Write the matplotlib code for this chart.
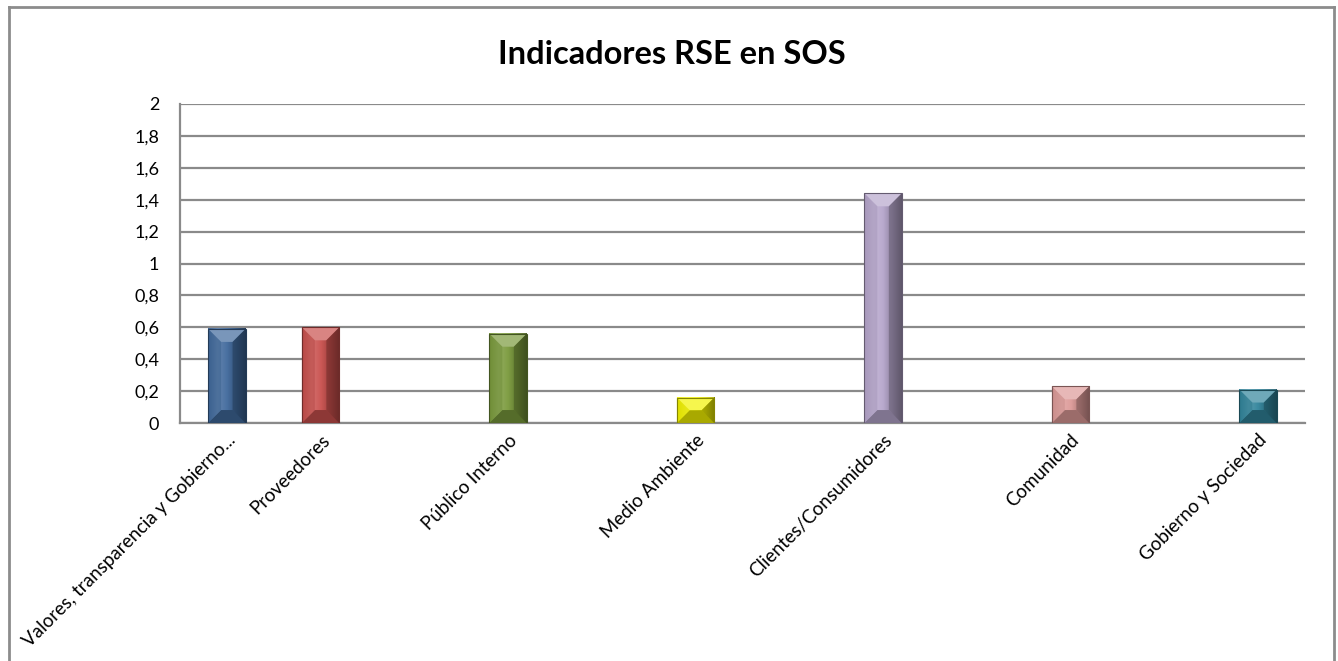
import numpy as np
import matplotlib.pyplot as plt
import matplotlib.colors as mcolors
from matplotlib.patches import Polygon, Rectangle
from matplotlib.lines import Line2D

categories = ['Valores, transparencia y Gobierno...', 'Proveedores', '', 'Público Interno', '',
              'Medio Ambiente', '', 'Clientes/Consumidores', '', 'Comunidad', '', 'Gobierno y Sociedad']
values = [0.59, 0.60, 0, 0.56, 0, 0.16, 0, 1.44, 0, 0.23, 0, 0.21]
bar_colors = ['#40699c', '#c9504d', '#fff', '#7a9a3c', '#fff', '#f2f200', '#fff',
              '#b6a6cc', '#fff', '#dd9a98', '#fff', '#31849b']
yticks = [0, 0.2, 0.4, 0.6, 0.8, 1, 1.2, 1.4, 1.6, 1.8, 2]
ytick_labels = ['0', '0,2', '0,4', '0,6', '0,8', '1', '1,2', '1,4', '1,6', '1,8', '2']
title = 'Indicadores RSE en SOS'

plt.rcParams['font.family'] = ['Lato', 'DejaVu Sans']


def shade(c, f):
    rgb = np.array(mcolors.to_rgb(c))
    if f > 0:
        return tuple(rgb + (1 - rgb) * f)
    return tuple(rgb * (1 + f))


fig = plt.figure(figsize=(13.38, 6.61), dpi=100)
ax = fig.add_axes([0.1345, 0.360, 0.8408, 0.4827])

x = np.arange(len(categories))
width = 0.4
ax.set_xlim(-0.5, len(categories) - 0.5)
ax.set_ylim(0, 2)

# pixels per data unit, to keep bevels square
pos = ax.get_position()
sx = pos.width * fig.get_figwidth() * fig.dpi / (len(categories))
sy = pos.height * fig.get_figheight() * fig.dpi / 2.0

for xi, v, c, lab in zip(x, values, bar_colors, categories):
    if not lab:
        continue
    x0, x1 = xi - width / 2, xi + width / 2
    # face with horizontal gradient
    stops = [shade(c, -0.05), shade(c, 0.18), shade(c, 0.05), shade(c, -0.2), shade(c, -0.5)]
    grad = np.array([stops[int(i)] if i == int(i) else
                     tuple(np.array(stops[int(i)]) * (1 - (i - int(i))) + np.array(stops[int(i) + 1]) * (i - int(i)))
                     for i in np.linspace(0, len(stops) - 1, 60)])
    ax.imshow(grad[np.newaxis, :, :], extent=(x0, x1, 0, v), aspect='auto',
              interpolation='bilinear', zorder=3)
    b = min(13, width * sx / 2, v * sy / 2)
    bx, by = b / sx, b / sy
    ax.add_patch(Polygon([(x0, v), (x1, v), (x1 - bx, v - by), (x0 + bx, v - by)],
                         closed=True, facecolor=shade(c, 0.3), edgecolor='none', zorder=4))
    ax.add_patch(Polygon([(x0, 0), (x1, 0), (x1 - bx, by), (x0 + bx, by)],
                         closed=True, facecolor=shade(c, -0.3), edgecolor='none', zorder=4))
    ax.add_patch(Polygon([(x1, 0), (x1, v), (x1 - bx, v - by), (x1 - bx, by)],
                         closed=True, facecolor=shade(c, -0.45), edgecolor='none', alpha=0.55, zorder=4))
    ax.add_patch(Polygon([(x0, 0), (x0, v), (x0 + bx, v - by), (x0 + bx, by)],
                         closed=True, facecolor=shade(c, -0.1), edgecolor='none', alpha=0.5, zorder=4))
    ax.add_patch(Rectangle((x0, 0), width, v, facecolor='none',
                           edgecolor=shade(c, -0.45), linewidth=0.8, zorder=5))

ax.set_xlim(-0.5, len(categories) - 0.5)
ax.set_ylim(0, 2)

ax.set_yticks(yticks)
ax.set_yticklabels(ytick_labels, fontsize=13)
ax.set_xticks(x)
ax.set_xticklabels(categories, fontsize=13.5, rotation=45, ha='right', rotation_mode='anchor')
ax.tick_params(axis='both', length=0)
ax.tick_params(axis='y', pad=15)
ax.tick_params(axis='x', pad=6)

ax.grid(axis='y', color='#8a8a8a', linewidth=1.6)
ax.set_axisbelow(True)
for s in ['top', 'right']:
    ax.spines[s].set_visible(False)
for s in ['left', 'bottom']:
    ax.spines[s].set_color('#8a8a8a')
    ax.spines[s].set_linewidth(1.6)

fig.text(0.502, 0.918, title, fontsize=23.5, fontweight='bold', ha='center', va='center')

# outer chart border
W, H = 1338, 661
bx0, bx1, by1 = 9 / W, 1334 / W, 1 - 7 / H
for xs, ys in [((bx0, bx0), (0, by1)), ((bx0, bx1), (by1, by1)), ((bx1, bx1), (by1, 0))]:
    fig.add_artist(Line2D(xs, ys, color='#8c8c8c', linewidth=2, transform=fig.transFigure))

fig.savefig('out.png', dpi=100)
